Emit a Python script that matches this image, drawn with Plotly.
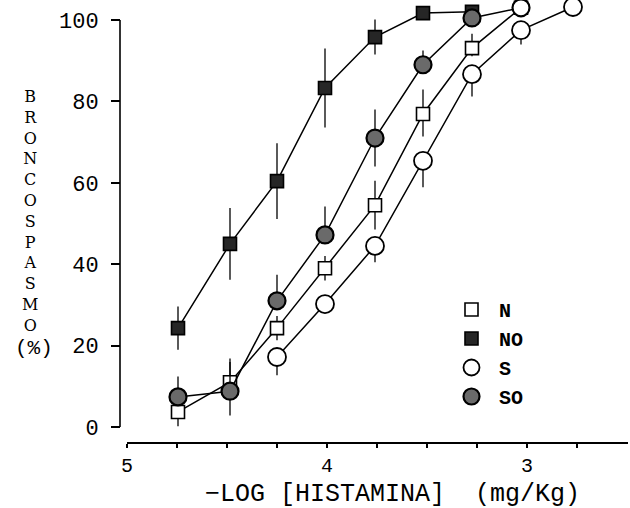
import plotly.graph_objects as go

# ---------------- data ----------------
dose_N = [4.745, 4.485, 4.25, 4.01, 3.76, 3.52, 3.275, 3.03]
resp_N = [3.7, 11.0, 24.3, 39.0, 54.5, 76.9, 93.1, 103.0]
errp_N = [0, 5, 3, 3, 6, 6, 3.5, 0]
errm_N = [3.5, 3, 3, 3, 6, 5.5, 2, 0]

dose_NO = [4.745, 4.485, 4.25, 4.01, 3.76, 3.52, 3.275]
resp_NO = [24.3, 45.0, 60.4, 83.3, 95.8, 101.7, 102.0]
err_NO = [5.3, 8.8, 9.3, 9.7, 4.3, 0, 0]

dose_S = [4.25, 4.01, 3.76, 3.52, 3.275, 3.03, 2.77]
resp_S = [17.2, 30.2, 44.5, 65.4, 86.7, 97.5, 103.2]
errm_S = [4.5, 2, 4, 6.5, 5.5, 3.5, 0]

dose_SO = [4.745, 4.485, 4.25, 4.01, 3.76, 3.52, 3.275, 3.03]
resp_SO = [7.4, 8.8, 31.0, 47.2, 71.0, 89.0, 100.5, 103.0]
errp_SO = [5, 8, 6.4, 7, 7, 3.5, 0, 0]
errm_SO = [0, 6, 0, 0, 7, 0, 0, 0]

x_tickvals = [5, 4.75, 4.5, 4.25, 4, 3.75, 3.5, 3.25, 3, 2.75]
x_ticktext = ["5", "", "", "", "4", "", "", "", "3", ""]
y_tickvals = [0, 20, 40, 60, 80, 100]
y_ticktext = ["0", "20", "40", "60", "80", "100"]

series_names = ["N", "NO", "S", "SO"]
y_title_letters = list("BRONCOSPASMO")
x_title = "\u2212LOG [HISTAMINA]  (mg/Kg)"
y_unit = "(%)"

# ---------------- styling ----------------
W, H = 630, 508
ML, MR, MT, MB = 120, 2, 0, 65
PW, PH = W - ML - MR, H - MT - MB
FONT = "Liberation Mono"
SERIF = "DejaVu Serif"
INK = "black"
Y0_PX, Y100_PX = 427, 20
Y_TOP = (Y0_PX - MT) * 100 / (Y0_PX - Y100_PX)


def px_to_paper_x(px):
    return (px - ML) / PW


def px_to_paper_y(py):
    return (H - MB - py) / PH


styles = {
    "N": dict(symbol="square", size=13, color="white", line=dict(color=INK, width=1.6)),
    "NO": dict(symbol="square", size=13, color="#262626", line=dict(color=INK, width=1.6)),
    "S": dict(symbol="circle", size=18, color="white", line=dict(color=INK, width=1.8)),
    "SO": dict(symbol="circle", size=17, color="#6a6a6a", line=dict(color=INK, width=2.2)),
}

line_style = dict(color=INK, width=1.5)


def err(plus, minus):
    return dict(type="data", symmetric=False, array=plus, arrayminus=minus,
                color=INK, thickness=1.3, width=0)


fig = go.Figure()

fig.add_trace(go.Scatter(x=dose_NO, y=resp_NO, mode="lines+markers", line=line_style,
                         marker=styles["NO"], error_y=err(err_NO, err_NO),
                         showlegend=False, cliponaxis=False))
fig.add_trace(go.Scatter(x=dose_N, y=resp_N, mode="lines+markers", line=line_style,
                         marker=styles["N"], error_y=err(errp_N, errm_N),
                         showlegend=False, cliponaxis=False))
so_marker = dict(styles["SO"])
so_marker["color"] = [styles["SO"]["color"]] * (len(dose_SO) - 1) + ["white"]
fig.add_trace(go.Scatter(x=dose_SO, y=resp_SO, mode="lines+markers", line=line_style,
                         marker=so_marker, error_y=err(errp_SO, errm_SO),
                         showlegend=False, cliponaxis=False))
fig.add_trace(go.Scatter(x=dose_S, y=resp_S, mode="lines+markers", line=line_style,
                         marker=styles["S"], error_y=err([0] * len(errm_S), errm_S),
                         showlegend=False, cliponaxis=False))

# legend entries (symbol only)
for name in series_names:
    fig.add_trace(go.Scatter(x=[None], y=[None], mode="markers", name=name,
                             legendgroup=name, marker=styles[name], showlegend=True))

annotations = [
    dict(text="<br>".join(y_title_letters), x=px_to_paper_x(30), y=px_to_paper_y(211),
         xref="paper", yref="paper", showarrow=False, xanchor="center", yanchor="middle",
         font=dict(family=SERIF, size=16, color=INK)),
    dict(text=y_unit, x=px_to_paper_x(34), y=px_to_paper_y(348),
         xref="paper", yref="paper", showarrow=False, xanchor="center", yanchor="middle",
         font=dict(family=FONT, size=21, color=INK)),
    dict(text=x_title, x=px_to_paper_x(392), y=px_to_paper_y(494),
         xref="paper", yref="paper", showarrow=False, xanchor="center", yanchor="middle",
         font=dict(family=FONT, size=25, color=INK)),
]

# y axis line only spans 0..100 as in the reference
shapes = [dict(type="line", xref="paper", yref="y", x0=0, x1=0, y0=0, y1=100,
               line=dict(color=INK, width=1.6))]

fig.update_layout(
    width=W, height=H,
    margin=dict(l=ML, r=MR, t=MT, b=MB),
    paper_bgcolor="white", plot_bgcolor="white",
    xaxis=dict(range=[5, 2.495], domain=[px_to_paper_x(127), 1], anchor="free", position=0,
               showgrid=False, zeroline=False, showline=True, linecolor=INK, linewidth=2,
               ticks="outside", ticklen=4, tickwidth=1.5, tickcolor=INK,
               tickvals=x_tickvals, ticktext=x_ticktext,
               tickfont=dict(family=FONT, size=20, color=INK)),
    yaxis=dict(range=[0, Y_TOP], domain=[px_to_paper_y(Y0_PX), 1], anchor="free", position=0,
               showgrid=False, zeroline=False, showline=False,
               ticks="outside", ticklen=9, tickwidth=1.5, tickcolor=INK,
               tickvals=y_tickvals, ticktext=y_ticktext, ticklabelstandoff=8,
               tickfont=dict(family=FONT, size=22, color=INK)),
    showlegend=True,
    legend=dict(x=px_to_paper_x(444), y=px_to_paper_y(290), xanchor="left", yanchor="top",
                font=dict(family=FONT, size=20, color=INK, weight="bold"),
                bgcolor="rgba(0,0,0,0)", traceorder="grouped", tracegroupgap=0,
                itemwidth=45),
    annotations=annotations,
    shapes=shapes,
)

fig.write_html("out.html")
